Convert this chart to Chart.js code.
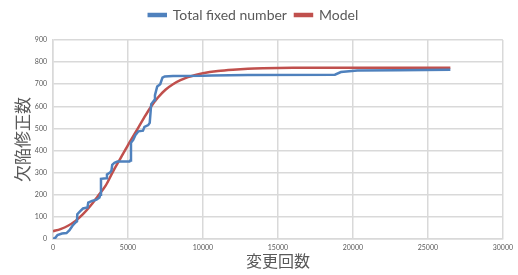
<!DOCTYPE html>
<html>
<head>
<meta charset="utf-8">
<script src="https://cdn.jsdelivr.net/npm/chart.js@4/dist/chart.umd.min.js"></script>
<style>
  html, body { margin: 0; padding: 0; background: #fff; }
  #wrap { width: 518px; height: 275px; }
</style>
</head>
<body>
<div id="wrap"><canvas id="chart" width="518" height="275"></canvas></div>
<script>
// 実測値 (階段状の累積修正数)
const fixedX = [0, 150, 300, 600, 900, 1100, 1300, 1500, 1600, 1620, 1800, 2000, 2300, 2350, 2600, 2900, 3100, 3150, 3200,
  3550, 3600, 3800, 3900, 3950, 4100, 4300, 5100, 5150, 5200, 5350, 5500, 5700, 6000, 6100, 6350, 6450, 6550,
  6750, 6800, 6950, 7150, 7300, 7450, 8000, 10000, 10600, 13000, 18800, 19200, 20300, 23000, 26500];
const fixedY = [0, 5, 18, 25, 27, 40, 60, 75, 80, 112, 125, 138, 143, 165, 172, 178, 188, 200, 272,
  275, 292, 300, 310, 335, 345, 350, 350, 355, 435, 448, 470, 487, 490, 507, 515, 525, 610,
  628, 650, 690, 700, 730, 735, 737, 738, 740, 742, 743, 755, 762, 763, 765];

// モデル曲線
const modelX = [0, 500, 1000, 1500, 2000, 2500, 3000, 3500, 4000, 4500, 5000, 5500, 6000, 6500, 7000, 7500,
  8000, 8500, 9000, 9500, 10000, 11000, 12000, 13000, 14000, 16000, 18000, 20000, 22000, 24000, 26500];
const modelY = [35, 45, 60, 82, 112, 150, 195, 240, 305, 365, 425, 482, 540, 595, 640, 675,
  700, 718, 732, 742, 750, 760, 766, 770, 772, 774, 775, 775, 775, 775, 775];

const xTicks = [0, 5000, 10000, 15000, 20000, 25000, 30000];

const seriesNames = ['Total fixed number', 'Model'];
const xTitle = '変更回数';
const yTitle = '欠陥修正数';

function toPoints(xs, ys) {
  return xs.map((x, i) => ({ x: x, y: ys[i] }));
}

const textColor = '#595959';
const gridColor = '#d9d9d9';

// 凡例とグラフの間を少し空ける
const legendGap = {
  id: 'legendGap',
  beforeInit(chart) {
    const fit = chart.legend.fit;
    chart.legend.fit = function () {
      fit.bind(this)();
      this.height += 8;
    };
  }
};

new Chart(document.getElementById('chart'), {
  type: 'scatter',
  data: {
    datasets: [
      {
        label: seriesNames[0],
        data: toPoints(fixedX, fixedY),
        showLine: true,
        borderColor: '#4f81bd',
        backgroundColor: '#4f81bd',
        borderWidth: 2.5,
        pointRadius: 0,
        tension: 0
      },
      {
        label: seriesNames[1],
        data: toPoints(modelX, modelY),
        showLine: true,
        borderColor: '#c0504d',
        backgroundColor: '#c0504d',
        borderWidth: 2.5,
        pointRadius: 0,
        cubicInterpolationMode: 'monotone'
      }
    ]
  },
  options: {
    responsive: false,
    animation: false,
    layout: { padding: { top: 0, right: 11, left: 0, bottom: 0 } },
    plugins: {
      tooltip: { enabled: false },
      legend: {
        position: 'top',
        labels: {
          boxWidth: 17,
          boxHeight: 2,
          padding: 8,
          color: textColor,
          font: { family: 'Lato', size: 14 }
        }
      }
    },
    scales: {
      x: {
        type: 'linear',
        min: 0,
        max: 30000,
        afterBuildTicks: s => { s.ticks = xTicks.map(v => ({ value: v })); },
        afterFit: s => { s.height = 36; },
        grid: { color: gridColor, lineWidth: 1.5, drawTicks: false },
        border: { color: gridColor, width: 1.5 },
        ticks: { color: textColor, font: { family: 'Lato', size: 7 }, padding: 5, maxRotation: 0, callback: v => String(v) },
        title: { display: true, text: xTitle, color: textColor, font: { family: 'Noto Sans CJK JP', size: 16 }, padding: { top: 7 } }
      },
      y: {
        min: 0,
        max: 900,
        ticks: { stepSize: 100, color: textColor, font: { family: 'Lato', size: 7 }, padding: 6, callback: v => String(v) },
        afterFit: s => { s.width = 53; },
        grid: { color: gridColor, lineWidth: 1.5, drawTicks: false },
        border: { color: gridColor, width: 1.5 },
        title: { display: true, text: yTitle, color: textColor, font: { family: 'Noto Sans CJK JP', size: 17 }, padding: { top: 12 } }
      }
    }
  },
  plugins: [legendGap]
});
</script>
</body>
</html>
